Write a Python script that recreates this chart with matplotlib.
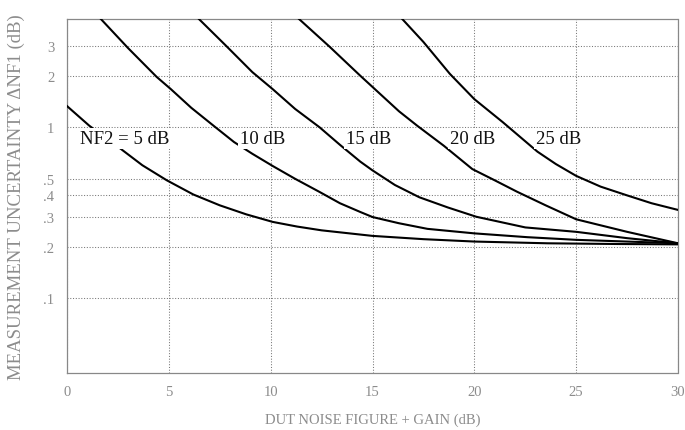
import matplotlib
matplotlib.use("Agg")
import matplotlib.pyplot as plt
from matplotlib.ticker import FixedLocator, NullLocator

# curves (x = DUT NF + gain in dB, y = uncertainty in dB)
nf5_x = [0, 1.1, 2.5, 3.7, 4.9, 6.2, 7.5, 8.8, 10.1, 11.3, 12.5, 15.0, 17.5, 20.0, 23.6, 27.0, 30]
nf5_y = [1.33, 1.02, 0.77, 0.60, 0.49, 0.405, 0.35, 0.31, 0.28, 0.263, 0.25, 0.232, 0.222, 0.215,
         0.21, 0.208, 0.207]

nf10_x = [1.5, 3.0, 4.4, 5.1, 6.1, 7.2, 8.2, 9.1, 10.1, 11.2, 12.4, 13.4, 14.4, 15.0, 16.3, 17.7,
          20.0, 22.6, 25.0, 30]
nf10_y = [4.5, 2.9, 1.97, 1.67, 1.3, 1.02, 0.82, 0.70, 0.594, 0.50, 0.419, 0.36, 0.32, 0.299, 0.275,
          0.255, 0.24, 0.228, 0.22, 0.21]

nf15_x = [6.3, 7.8, 9.1, 10.1, 11.2, 12.4, 13.4, 14.4, 15.0, 16.1, 17.3, 18.7, 20.1, 22.5, 25.0,
          27.5, 30]
nf15_y = [4.5, 3.0, 2.1, 1.67, 1.28, 1.0, 0.79, 0.63, 0.56, 0.46, 0.39, 0.34, 0.30, 0.26, 0.245,
          0.225, 0.21]

nf20_x = [11.2, 12.9, 14.4, 15.0, 16.3, 17.2, 18.5, 19.9, 21.0, 22.1, 23.5, 25.0, 27.5, 30]
nf20_y = [4.5, 2.95, 2.0, 1.72, 1.24, 1.02, 0.78, 0.57, 0.49, 0.42, 0.35, 0.29, 0.245, 0.21]

nf25_x = [16.3, 17.5, 18.8, 20.0, 21.4, 23.1, 24.0, 25.0, 26.2, 27.5, 28.7, 30]
nf25_y = [4.5, 3.15, 2.05, 1.46, 1.07, 0.72, 0.61, 0.52, 0.45, 0.40, 0.36, 0.329]

labels = ["NF2 = 5 dB", "10 dB", "15 dB", "20 dB", "25 dB"]
label_x = [2.85, 9.6, 14.8, 19.9, 24.15]
label_y = 0.86

xticks = [0, 5, 10, 15, 20, 25, 30]
yticks = [3, 2, 1, 0.5, 0.4, 0.3, 0.2, 0.1]
ytick_labels = ["3", "2", "1", ".5", ".4", ".3", ".2", ".1"]

serif = "Liberation Serif"
gray = "#8c8c8c"

fig = plt.figure(figsize=(6.85, 4.31), dpi=100)
ax = fig.add_axes([0.0978, 0.1323, 0.892, 0.8213])

for xs, ys in [(nf5_x, nf5_y), (nf10_x, nf10_y), (nf15_x, nf15_y),
               (nf20_x, nf20_y), (nf25_x, nf25_y)]:
    ax.plot(xs, ys, color="black", lw=1.5, zorder=3)

for txt, lx in zip(labels, label_x):
    ax.text(lx, label_y, txt, ha="center", va="center", fontsize=13.5,
            family=serif, color="#111111", zorder=4,
            bbox=dict(boxstyle="square,pad=0.1", fc="white", ec="none"))

ax.set_yscale("log")
ax.set_xlim(0, 30)
ax.set_ylim(0.0367, 4.29)
ax.xaxis.set_major_locator(FixedLocator(xticks))
ax.yaxis.set_major_locator(FixedLocator(yticks))
ax.yaxis.set_minor_locator(NullLocator())
ax.set_yticklabels(ytick_labels)

ax.grid(True, which="major", linestyle=":", color="#777777", lw=0.75)
for s in ax.spines.values():
    s.set_linestyle((0, (2, 1)))
    s.set_color("#888888")
    s.set_linewidth(0.9)

ax.tick_params(length=0, pad=9, labelsize=10.5, labelcolor=gray)
for lab in ax.get_xticklabels() + ax.get_yticklabels():
    lab.set_family(serif)

ax.set_xlabel("DUT NOISE FIGURE + GAIN (dB)", family=serif, fontsize=10.5,
              color=gray, labelpad=10)
ax.set_ylabel("MEASUREMENT UNCERTAINTY \u0394NF1 (dB)", family=serif,
              fontsize=13.5, color=gray, labelpad=13)

fig.savefig("out.png", dpi=100)
